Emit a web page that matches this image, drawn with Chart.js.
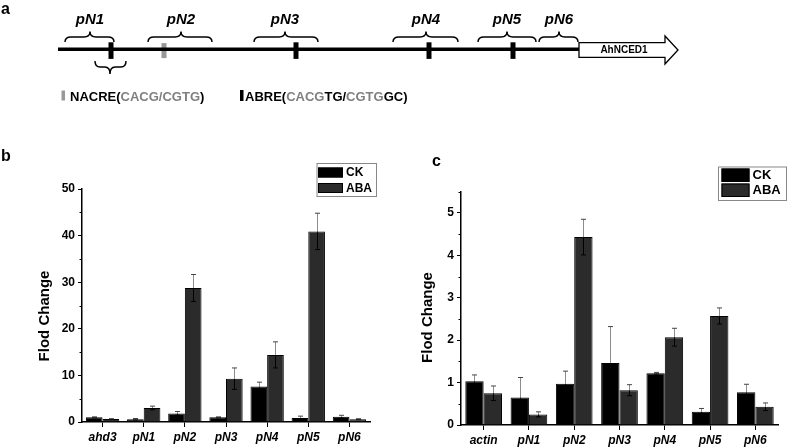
<!DOCTYPE html>
<html>
<head>
<meta charset="utf-8">
<script src="https://cdn.jsdelivr.net/npm/chart.js@4.4.0/dist/chart.umd.min.js"></script>
<style>
body { margin: 0; background: #fff; width: 787px; height: 447px; position: relative; overflow: hidden; }
canvas { position: absolute; }
</style>
</head>
<body>
<canvas id="pa" width="787" height="120" style="left:0px;top:0px"></canvas>
<canvas id="pb" width="400" height="307" style="left:0px;top:140px"></canvas>
<canvas id="pc" width="387" height="307" style="left:400px;top:140px"></canvas>
<script>
var FONT = '"Liberation Sans", Arial, sans-serif'

// ---- panel a: promoter map (positions along the drawn promoter) ----
var fragNames = ['pN1', 'pN2', 'pN3', 'pN4', 'pN5', 'pN6']
var fragStart = [65, 148, 254, 393, 478, 539]
var fragEnd = [114, 212, 318, 458, 536, 578]
var fragTip = [90, 181, 285, 426, 507, 559]
var abrePos = [111, 296, 429, 513]
var nacrePos = [164]
var promoterStart = 58
var promoterEnd = 579
var geneEnd = 678
var geneName = 'AhNCED1'
var subFrag = [95, 126, 110]   // start, end, tip of the brace under pN1

// ---- panel b ----
var catsB = ['ahd3', 'pN1', 'pN2', 'pN3', 'pN4', 'pN5', 'pN6']
var ckB = [1.0, 0.6, 1.85, 1.0, 7.6, 0.86, 1.14]
var ckErrB = [0.1, 0.15, 0.4, 0.1, 0.95, 0.4, 0.3]
var abaB = [0.65, 3.0, 28.75, 9.3, 14.4, 40.9, 0.6]
var abaErrB = [0.05, 0.4, 2.9, 2.3, 2.8, 3.9, 0.1]

// ---- panel c ----
var catsC = ['actin', 'pN1', 'pN2', 'pN3', 'pN4', 'pN5', 'pN6']
var ckC = [1.03, 0.65, 0.97, 1.46, 1.22, 0.31, 0.77]
var ckErrC = [0.15, 0.47, 0.3, 0.86, 0.02, 0.08, 0.19]
var abaC = [0.75, 0.25, 4.43, 0.82, 2.07, 2.57, 0.43]
var abaErrC = [0.17, 0.06, 0.42, 0.13, 0.21, 0.19, 0.09]

var GRAY_TXT = '#808080'

function brace(ctx, x1, x2, xt, yEnd, yMid, yTip) {
    var r = Math.min(6, (x2 - x1) / 6)
    ctx.beginPath()
    ctx.moveTo(x1, yEnd)
    ctx.quadraticCurveTo(x1, yMid, x1 + r, yMid)
    ctx.lineTo(xt - r, yMid)
    ctx.quadraticCurveTo(xt, yMid, xt, yTip)
    ctx.quadraticCurveTo(xt, yMid, xt + r, yMid)
    ctx.lineTo(x2 - r, yMid)
    ctx.quadraticCurveTo(x2, yMid, x2, yEnd)
    ctx.stroke()
}

var mapPlugin = {
    id: 'mapPlugin',
    beforeDatasetsDraw: function (chart) {
        var ctx = chart.ctx
        var xs = chart.scales.x, ys = chart.scales.y
        ctx.save()
        // gene arrow
        var x0 = xs.getPixelForValue(promoterEnd), x1 = xs.getPixelForValue(geneEnd)
        var xh = x1 - 13
        ctx.beginPath()
        ctx.moveTo(x0, ys.getPixelForValue(42.7))
        ctx.lineTo(xh, ys.getPixelForValue(42.7))
        ctx.lineTo(xh, ys.getPixelForValue(36))
        ctx.lineTo(x1, ys.getPixelForValue(50))
        ctx.lineTo(xh, ys.getPixelForValue(64))
        ctx.lineTo(xh, ys.getPixelForValue(57.3))
        ctx.lineTo(x0, ys.getPixelForValue(57.3))
        ctx.closePath()
        ctx.fillStyle = '#fff'
        ctx.fill()
        ctx.lineWidth = 1.3
        ctx.strokeStyle = '#000'
        ctx.stroke()
        ctx.fillStyle = '#000'
        ctx.font = 'bold 10px ' + FONT
        ctx.textAlign = 'center'
        ctx.textBaseline = 'middle'
        ctx.fillText(geneName, (x0 + xh) / 2 + 2, ys.getPixelForValue(50.5))
        ctx.restore()
    },
    afterDatasetsDraw: function (chart) {
        var ctx = chart.ctx
        var xs = chart.scales.x, ys = chart.scales.y
        ctx.save()
        ctx.strokeStyle = '#000'
        ctx.lineWidth = 1.5
        for (var i = 0; i < fragNames.length; i++) {
            brace(ctx, xs.getPixelForValue(fragStart[i]), xs.getPixelForValue(fragEnd[i]),
                xs.getPixelForValue(fragTip[i]), ys.getPixelForValue(42), ys.getPixelForValue(37), ys.getPixelForValue(31.5))
        }
        brace(ctx, xs.getPixelForValue(subFrag[0]), xs.getPixelForValue(subFrag[1]),
            xs.getPixelForValue(subFrag[2]), ys.getPixelForValue(61), ys.getPixelForValue(67), ys.getPixelForValue(74))

        ctx.fillStyle = '#000'
        ctx.font = 'italic bold 15px ' + FONT
        ctx.textAlign = 'center'
        ctx.textBaseline = 'middle'
        for (var j = 0; j < fragNames.length; j++) {
            ctx.fillText(fragNames[j], xs.getPixelForValue(fragTip[j]), ys.getPixelForValue(20))
        }

        // panel letter
        ctx.textAlign = 'left'
        ctx.textBaseline = 'alphabetic'
        ctx.font = 'bold 16px ' + FONT
        ctx.fillText('a', 1, 13.5)

        // element key
        ctx.fillStyle = '#999'
        ctx.fillRect(61.5, 90.5, 3.5, 10)
        ctx.fillStyle = '#000'
        ctx.fillRect(240, 90, 3.5, 11)
        ctx.font = 'bold 13px ' + FONT
        var segs1 = [['NACRE(', '#000'], ['CACG', GRAY_TXT], ['/', GRAY_TXT], ['CGTG', GRAY_TXT], [')', '#000']]
        var segs2 = [['ABRE(', '#000'], ['CACG', GRAY_TXT], ['TG', '#000'], ['/', '#000'], ['CGTG', GRAY_TXT], ['GC', '#000'], [')', '#000']]
        var drawSegs = function (segs, x) {
            segs.forEach(function (s) {
                ctx.fillStyle = s[1]
                ctx.fillText(s[0], x, 101)
                x += ctx.measureText(s[0]).width
            })
        }
        drawSegs(segs1, 70)
        drawSegs(segs2, 245)
        ctx.restore()
    }
}

var mapChart = new Chart(document.getElementById('pa'), {
    type: 'scatter',
    data: {
        datasets: [
            {
                type: 'line',
                data: [{ x: promoterStart, y: 49.3 }, { x: promoterEnd, y: 49.3 }],
                borderColor: '#000',
                borderWidth: 3.5,
                pointRadius: 0
            },
            {
                data: abrePos.map(function (p) { return { x: p, y: 50.6 } }),
                pointStyle: 'line',
                rotation: 90,
                radius: 8.3,
                borderWidth: 5,
                borderColor: '#000',
                backgroundColor: '#000'
            },
            {
                data: nacrePos.map(function (p) { return { x: p, y: 50.6 } }),
                pointStyle: 'line',
                rotation: 90,
                radius: 7.5,
                borderWidth: 5,
                borderColor: '#999',
                backgroundColor: '#999'
            }
        ]
    },
    options: {
        responsive: false,
        animation: false,
        layout: { padding: 0, autoPadding: false },
        scales: {
            x: { type: 'linear', min: 0, max: 787, display: false },
            y: { type: 'linear', min: 0, max: 120, reverse: true, display: false }
        },
        plugins: { legend: { display: false }, tooltip: { enabled: false } }
    },
    plugins: [mapPlugin]
})

// ---- bar panels ----
var extrasPlugin = {
    id: 'extras',
    afterDatasetsDraw: function (chart, args, opts) {
        var ctx = chart.ctx
        var ys = chart.scales.y
        var area = chart.chartArea
        ctx.save()
        // error bars
        chart.data.datasets.forEach(function (ds, d) {
            var meta = chart.getDatasetMeta(d)
            meta.data.forEach(function (bar, i) {
                var v = ds.data[i], e = ds.errors[i]
                var x = Math.round(bar.x) + 0.5
                var yv = ys.getPixelForValue(v)
                var yt = ys.getPixelForValue(v + e)
                var yb = ys.getPixelForValue(Math.max(0, v - e))
                ctx.lineWidth = 1
                ctx.strokeStyle = '#000'
                ctx.beginPath()
                ctx.moveTo(x, yb); ctx.lineTo(x, yv)
                ctx.moveTo(x - 2.5, yb); ctx.lineTo(x + 2.5, yb)
                ctx.stroke()
                ctx.strokeStyle = '#8c8c8c'
                ctx.beginPath()
                ctx.moveTo(x, yv); ctx.lineTo(x, yt)
                ctx.stroke()
                ctx.strokeStyle = '#444'
                ctx.beginPath()
                ctx.moveTo(x - 2.5, yt); ctx.lineTo(x + 2.5, yt)
                ctx.stroke()
            })
        })
        // minor ticks
        ctx.strokeStyle = '#000'
        ctx.lineWidth = 1
        ctx.beginPath()
        for (var m = opts.minorStep; m <= ys.max + 1e-9; m += opts.minorStep * 2) {
            var py = Math.round(ys.getPixelForValue(m)) + 0.5
            ctx.moveTo(area.left - 2.5, py); ctx.lineTo(area.left, py)
        }
        ctx.stroke()
        // axis title
        ctx.fillStyle = '#000'
        ctx.font = 'bold 15px ' + FONT
        ctx.textAlign = 'center'
        ctx.textBaseline = 'middle'
        ctx.save()
        ctx.translate(opts.titleX, opts.titleY)
        ctx.rotate(-Math.PI / 2)
        ctx.fillText('Flod Change', 0, 0)
        ctx.restore()
        // panel letter
        ctx.textAlign = 'left'
        ctx.textBaseline = 'alphabetic'
        ctx.font = 'bold 16px ' + FONT
        ctx.fillText(opts.letter, opts.letterX, opts.letterY)
        // legend
        var lb = opts.legendBox
        ctx.strokeStyle = '#888'
        ctx.lineWidth = 1
        ctx.strokeRect(lb.x + 0.5, lb.y + 0.5, lb.w, lb.h)
        ctx.font = 'bold ' + lb.font + 'px ' + FONT
        ctx.textBaseline = 'middle'
        chart.data.datasets.forEach(function (ds, d) {
            var sy = lb.sy + d * lb.row
            ctx.fillStyle = ds.backgroundColor
            ctx.fillRect(lb.sx, sy, lb.sw, lb.sh)
            ctx.strokeStyle = '#000'
            ctx.strokeRect(lb.sx + 0.5, sy + 0.5, lb.sw - 1, lb.sh - 1)
            ctx.fillStyle = '#000'
            ctx.fillText(ds.label, lb.sx + lb.sw + 3, sy + lb.sh / 2 + 0.5)
        })
        ctx.restore()
    }
}

function makeBarChart(id, cats, ck, ckErr, aba, abaErr, cfg) {
    return new Chart(document.getElementById(id), {
        type: 'bar',
        data: {
            labels: cats,
            datasets: [
                { label: 'CK', data: ck, errors: ckErr, backgroundColor: '#000', borderColor: '#000', borderWidth: 1 },
                { label: 'ABA', data: aba, errors: abaErr, backgroundColor: '#2b2b2b', borderColor: '#000', borderWidth: 1 }
            ]
        },
        options: {
            responsive: false,
            animation: false,
            layout: { padding: cfg.padding },
            datasets: { bar: { categoryPercentage: 0.81, barPercentage: 1 } },
            scales: {
                x: {
                    afterFit: function (s) { s.height = cfg.xHeight },
                    border: { color: '#000', width: 1.5 },
                    grid: { offset: false, drawOnChartArea: false, tickLength: 5, color: '#000' },
                    ticks: { color: '#000', padding: 3, font: { family: FONT, size: 12, style: 'italic', weight: 'bold' } }
                },
                y: {
                    min: 0,
                    max: cfg.max,
                    afterFit: function (s) { s.width = cfg.yWidth },
                    afterBuildTicks: function (s) {
                        s.ticks = s.ticks.filter(function (t) { return Math.abs(t.value / cfg.step - Math.round(t.value / cfg.step)) < 1e-6 })
                    },
                    border: { color: '#000', width: 1.5 },
                    grid: { drawOnChartArea: false, tickLength: 4, color: '#000' },
                    ticks: { stepSize: cfg.step, color: '#000', padding: 3, font: { family: FONT, size: 12, weight: 'bold' } }
                }
            },
            plugins: {
                legend: { display: false },
                tooltip: { enabled: false },
                extras: cfg.extras
            }
        },
        plugins: [extrasPlugin]
    })
}

var chartB = makeBarChart('pb', catsB, ckB, ckErrB, abaB, abaErrB, {
    padding: { left: 0, top: 49, right: 30, bottom: 0 },
    xHeight: 25, yWidth: 82, max: 50, step: 10,
    extras: {
        minorStep: 5, titleX: 45, titleY: 176, letter: 'b', letterX: 1, letterY: 21,
        legendBox: { x: 316.5, y: 23, w: 59.5, h: 33, sx: 318, sw: 25, sy: 27.5, sh: 10, row: 15.5, font: 12 }
    }
})

var chartC = makeBarChart('pc', catsC, ckC, ckErrC, abaC, abaErrC, {
    padding: { left: 0, top: 51.7, right: 9, bottom: 0 },
    xHeight: 22, yWidth: 61, max: 5.5, step: 1,
    extras: {
        minorStep: 0.5, titleX: 27.5, titleY: 177.5, letter: 'c', letterX: 32, letterY: 26,
        legendBox: { x: 318, y: 26.5, w: 68, h: 33.5, sx: 321.5, sw: 28, sy: 28.5, sh: 13.5, row: 15, font: 13 }
    }
})
</script>
</body>
</html>
